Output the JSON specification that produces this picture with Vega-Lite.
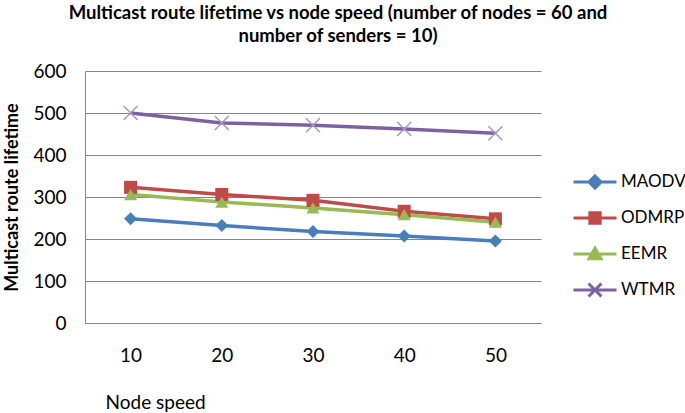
{
  "$schema": "https://vega.github.io/schema/vega-lite/v6.json",
  "width": 456,
  "height": 252,
  "autosize": "none",
  "padding": {"left": 85, "top": 71, "right": 144, "bottom": 90},
  "background": "white",
  "title": {
    "text": ["Multicast route lifetime vs node speed (number of nodes = 60 and", "number of senders = 10)"],
    "font": "Lato",
    "fontSize": 18.5,
    "fontWeight": "bold",
    "color": "#000000",
    "lineHeight": 23,
    "anchor": "middle",
    "dx": 25,
    "offset": 17
  },
  "config": {
    "view": {"stroke": null},
    "axis": {"labelFont": "Lato", "titleFont": "Lato", "labelColor": "#000000", "titleColor": "#000000"}
  },
  "data": {
    "values": [
      {"speed": 10, "series": "MAODV", "value": 248},
      {"speed": 20, "series": "MAODV", "value": 232},
      {"speed": 30, "series": "MAODV", "value": 218},
      {"speed": 40, "series": "MAODV", "value": 207},
      {"speed": 50, "series": "MAODV", "value": 195},
      {"speed": 10, "series": "ODMRP", "value": 323},
      {"speed": 20, "series": "ODMRP", "value": 306},
      {"speed": 30, "series": "ODMRP", "value": 292},
      {"speed": 40, "series": "ODMRP", "value": 266},
      {"speed": 50, "series": "ODMRP", "value": 248},
      {"speed": 10, "series": "EEMR", "value": 306},
      {"speed": 20, "series": "EEMR", "value": 288},
      {"speed": 30, "series": "EEMR", "value": 274},
      {"speed": 40, "series": "EEMR", "value": 258},
      {"speed": 50, "series": "EEMR", "value": 240},
      {"speed": 10, "series": "WTMR", "value": 500},
      {"speed": 20, "series": "WTMR", "value": 476},
      {"speed": 30, "series": "WTMR", "value": 471},
      {"speed": 40, "series": "WTMR", "value": 462},
      {"speed": 50, "series": "WTMR", "value": 452}
    ]
  },
  "encoding": {
    "x": {
      "field": "speed",
      "type": "ordinal",
      "scale": {"type": "point", "padding": 0.5},
      "axis": {
        "title": "Node speed",
        "labelAngle": 0,
        "labelFontSize": 19,
        "labelBaseline": "middle",
        "labelPadding": 32,
        "ticks": false,
        "grid": false,
        "domainColor": "#868686",
        "domainWidth": 1,
        "titleFontSize": 19,
        "titleFontWeight": "normal",
        "titleAnchor": "start",
        "titleAlign": "left",
        "titleBaseline": "middle",
        "titleX": 20,
        "titleY": 79
      }
    },
    "y": {
      "field": "value",
      "type": "quantitative",
      "scale": {"domain": [0, 600], "nice": false},
      "axis": {
        "title": "Multicast route lifetime",
        "values": [0, 100, 200, 300, 400, 500, 600],
        "grid": true,
        "gridColor": "#868686",
        "gridWidth": 1,
        "domainColor": "#868686",
        "domainWidth": 1,
        "ticks": false,
        "labelPadding": 19,
        "labelFontSize": 19,
        "titleFontSize": 18,
        "titleFontWeight": "bold",
        "titleAngle": -90,
        "titleAlign": "center",
        "titleBaseline": "middle",
        "titleX": -73,
        "titleY": 126
      }
    }
  },
  "layer": [
    {
      "mark": {"type": "line", "strokeWidth": 3.5},
      "encoding": {
        "color": {
          "field": "series",
          "type": "nominal",
          "scale": {"domain": ["MAODV", "ODMRP", "EEMR", "WTMR"], "range": ["#4A7EBB", "#BE4B48", "#98B954", "#7D60A0"]},
          "legend": {
            "title": null,
            "orient": "none",
            "legendX": 487,
            "legendY": 101,
            "padding": 0,
            "symbolSize": 1849,
            "clipHeight": 20,
            "rowPadding": 16,
            "labelOffset": 3,
            "labelFont": "Lato",
            "labelFontSize": 17,
            "labelColor": "#000000",
            "encode": {
              "symbols": {
                "update": {
                  "shape": {"signal": "datum.value === 'MAODV' ? 'M-1,0L1,0M0,-0.28L0.28,0L0,0.28L-0.28,0Z' : datum.value === 'ODMRP' ? 'M-1,0L1,0M-0.24,-0.24L0.24,-0.24L0.24,0.24L-0.24,0.24Z' : datum.value === 'EEMR' ? 'M-1,0L1,0M0,-0.28L0.28,0.22L-0.28,0.22Z' : 'M-1,0L1,0M-0.3,-0.3L0.3,0.3M0.3,-0.3L-0.3,0.3'"},
                  "fill": {"signal": "scale('color', datum.value)"},
                  "stroke": {"signal": "scale('color', datum.value)"},
                  "strokeWidth": {"value": 3},
                  "opacity": {"value": 1},
                  "fillOpacity": {"value": 1}
                }
              }
            }
          }
        }
      }
    },
    {
      "transform": [{"filter": "datum.series !== 'WTMR'"}],
      "mark": {"type": "point", "filled": true, "opacity": 1, "size": 170},
      "encoding": {
        "color": {"field": "series", "type": "nominal"},
        "shape": {
          "field": "series",
          "type": "nominal",
          "scale": {"domain": ["MAODV", "ODMRP", "EEMR"], "range": ["diamond", "square", "triangle-up"]},
          "legend": null
        }
      }
    },
    {
      "transform": [{"filter": "datum.series === 'WTMR'"}],
      "mark": {"type": "point", "filled": false, "opacity": 1, "size": 196, "shape": "M-1,-1L1,1M1,-1L-1,1", "color": "#A896CA", "strokeWidth": 1.5},
      "encoding": {}
    }
  ]
}
